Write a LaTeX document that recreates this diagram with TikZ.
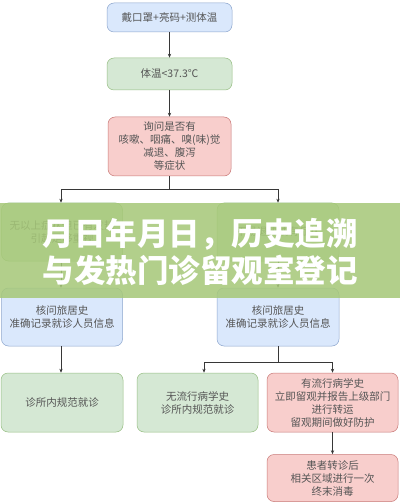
\documentclass[tikz,border=0pt]{standalone}
\usepackage{fontspec}
\setmainfont{Noto Sans CJK SC}
\usetikzlibrary{arrows.meta}
\definecolor{bluefill}{RGB}{218,232,252}
\definecolor{blueline}{RGB}{140,165,205}
\definecolor{greenfill}{RGB}{213,232,212}
\definecolor{greenline}{RGB}{150,190,130}
\definecolor{pinkfill}{RGB}{248,206,204}
\definecolor{pinkline}{RGB}{200,120,118}
\definecolor{txtgray}{RGB}{85,85,85}
\definecolor{linegray}{RGB}{55,55,55}
\definecolor{bandgreen}{RGB}{166,200,120}
\begin{document}
\begin{tikzpicture}[x=1pt,y=-1pt,
  basebox/.style={draw, rounded corners=7pt, line width=0.5pt, align=center, inner sep=0pt,
    text=txtgray, font=\fontsize{10.5}{13}\selectfont},
  bluebox/.style={basebox, fill=bluefill, draw=blueline},
  greenbox/.style={basebox, fill=greenfill, draw=greenline},
  pinkbox/.style={basebox, fill=pinkfill, draw=pinkline},
  arr/.style={draw=linegray, line width=0.6pt, -{Stealth[length=4pt,width=3.2pt]}},
  ln/.style={draw=linegray, line width=0.6pt}]
\useasboundingbox (0,0) rectangle (400,502);
\fill[white] (0,0) rectangle (400,502);

\node[bluebox, minimum width=125pt, minimum height=29pt] (b1) at (169.5,17.5) {戴口罩+亮码+测体温};
\node[greenbox, minimum width=125pt, minimum height=32pt] (b2) at (169.5,74) {体温<37.3℃};
\node[pinkbox, minimum width=123pt, minimum height=59pt] (b3) at (169.5,146.5) {询问是否有\\咳嗽、咽痛、嗅(味)觉\\减退、腹泻\\等症状};

\node[greenbox, minimum width=121pt, minimum height=58pt] (b4) at (62,232) {无以上症状但已有发热\\引起足够重视};
\node[greenbox, minimum width=122pt, minimum height=58pt] (b5) at (278,232) {不易退热或有症状};

\node[bluebox, minimum width=121pt, minimum height=58pt] (b6) at (62,317) {核问旅居史\\准确记录就诊人员信息};
\node[bluebox, minimum width=122pt, minimum height=58pt] (b7) at (278,317) {核问旅居史\\准确记录就诊人员信息};

\node[greenbox, minimum width=122pt, minimum height=59pt] (b8) at (62,402.5) {诊所内规范就诊};
\node[greenbox, minimum width=121pt, minimum height=59pt] (b9) at (197.5,402.5) {无流行病学史\\诊所内规范就诊};
\node[pinkbox, minimum width=131pt, minimum height=59pt] (b10) at (332.5,402.5) {有流行病学史\\立即留观并报告上级部门\\进行转运\\留观期间做好防护};
\node[pinkbox, minimum width=131pt, minimum height=47pt] (b11) at (332.5,478) {患者转诊后\\相关区域进行一次\\终末消毒};

\draw[arr] (b1) -- (b2);
\draw[arr] (b2) -- (b3);
\coordinate (j1) at (169.5,189);
\draw[ln] (b3.south) -- (j1);
\draw[arr] (j1) -| ([xshift=-1pt]b4.north);
\draw[arr] (j1) -| (b5.north);
\draw[arr] ([xshift=-1pt]b4.south) -- ([xshift=-1pt]b6.north);
\draw[arr] (b5) -- (b7);
\draw[arr] ([xshift=-1pt]b6.south) -- ([xshift=-1pt]b8.north);
\coordinate (j2) at (278,362);
\draw[ln] (b7.south) -- (j2);
\draw[arr] (j2) -| ([xshift=6.5pt]b9.north);
\draw[arr] (j2) -| (b10.north);
\draw[arr] (b10) -- (b11);

\fill[bandgreen, fill opacity=0.86] (0,203) rectangle (400,298);
\node[font=\bfseries\fontsize{31.5}{37}\selectfont, text=white, align=center, inner sep=0pt] (title) at (200,251.5) {月日年月日，历史追溯\\与发热门诊留观室登记};
\end{tikzpicture}
\end{document}
